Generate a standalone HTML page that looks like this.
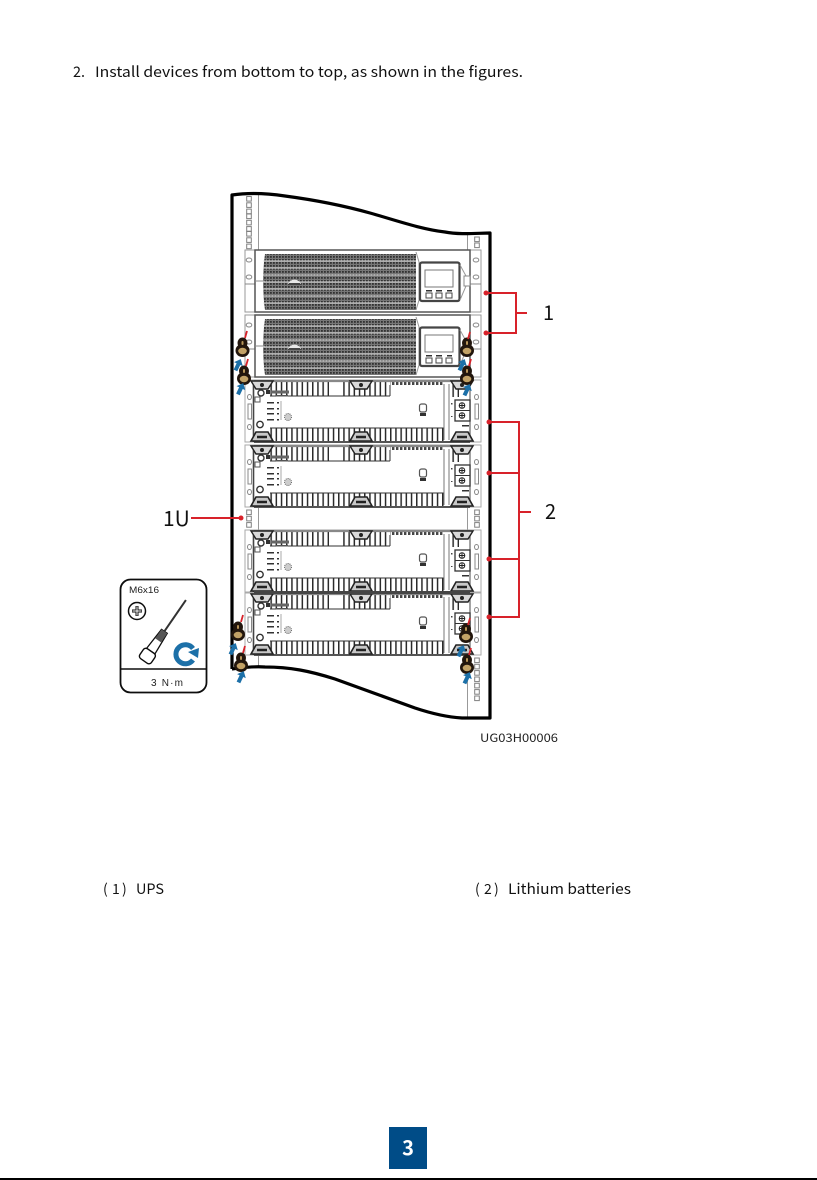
<!DOCTYPE html>
<html><head><meta charset="utf-8"><style>
html,body{margin:0;padding:0;background:#fff;width:817px;height:1180px;overflow:hidden}
svg{display:block}
text{font-family:"Noto Sans CJK SC","Liberation Sans",sans-serif}
</style></head><body>
<svg width="817" height="1180" viewBox="0 0 817 1180" xmlns="http://www.w3.org/2000/svg">
<defs>
<filter id="soft" filterUnits="userSpaceOnUse" x="0" y="0" width="817" height="1180"><feGaussianBlur stdDeviation="0.35"/></filter>
<pattern id="gr" width="3" height="3" patternUnits="userSpaceOnUse"><rect width="3" height="3" fill="#777"/><rect width="1.8" height="1.8" fill="#333"/></pattern>
<pattern id="fin" width="5.2" height="10" patternUnits="userSpaceOnUse"><rect width="5.2" height="10" fill="#fff"/><rect width="1.5" height="10" fill="#2a2a2a"/></pattern>
<pattern id="tick" width="4" height="4" patternUnits="userSpaceOnUse"><rect width="4" height="4" fill="#fff"/><rect width="2.4" height="4" fill="#444"/></pattern>

<rect id="s" width="4.6" height="4.6" fill="#fff" stroke="#808080" stroke-width="1"/>
<g id="s3"><use href="#s" y="0"/><use href="#s" y="6.3"/><use href="#s" y="12.600"/></g>

<g id="ups">
<rect x="245" y="0" width="10" height="62" fill="#fff" stroke="#999" stroke-width="1"/>
<rect x="470" y="0" width="11" height="62" fill="#fff" stroke="#999" stroke-width="1"/>
<line x1="245" y1="34" x2="255" y2="34" stroke="#888"/><line x1="470" y1="34" x2="481" y2="34" stroke="#888"/>
<ellipse cx="249" cy="10" rx="2.800" ry="2" fill="#fff" stroke="#888"/>
<ellipse cx="249" cy="27" rx="2.800" ry="2" fill="#fff" stroke="#888"/>
<ellipse cx="476" cy="10" rx="2.800" ry="2" fill="#fff" stroke="#888"/>
<ellipse cx="476" cy="27" rx="2.800" ry="2" fill="#fff" stroke="#888"/>
<rect x="255" y="0" width="215" height="62" fill="#fff" stroke="#555" stroke-width="1.500"/>
<path d="M265 4H416V60H265Q261 32 265 4Z" fill="url(#gr)"/>
<g stroke="#e4e4e4" stroke-width=".9"><line x1="263" y1="11" x2="416" y2="11"/><line x1="263" y1="18" x2="416" y2="18"/><line x1="263" y1="25" x2="416" y2="25"/><line x1="263" y1="32" x2="416" y2="32"/><line x1="263" y1="39" x2="416" y2="39"/><line x1="263" y1="46" x2="416" y2="46"/><line x1="263" y1="53" x2="416" y2="53"/></g>
<path d="M288 34A7 7 0 0 1 301 34Z" fill="#e8e8e8"/>
<path d="M289 34H300" stroke="#444" stroke-width="2"/>
<line x1="255" y1="31" x2="265" y2="31" stroke="#888"/>
<path d="M416 2 L419 12 V50 L416 60" fill="none" stroke="#999"/>
<rect x="420" y="12.500" width="39.500" height="38.500" rx="2" fill="#fff" stroke="#444" stroke-width="2.200"/>
<rect x="425" y="20" width="28" height="17" fill="#fff" stroke="#777"/>
<g fill="#fff" stroke="#444"><rect x="426" y="43" width="6" height="5"/><rect x="436" y="43" width="6" height="5"/><rect x="446" y="43" width="6" height="5"/></g>
<g fill="#333"><rect x="426" y="40" width="6" height="1.500"/><rect x="436" y="40" width="6" height="1.500"/><rect x="447" y="40" width="5" height="1.500"/></g>
<path d="M460 15 L466 26 V36 L460 50" fill="none" stroke="#999"/>
<rect x="464" y="26" width="6" height="10" fill="#fff" stroke="#888"/>
</g>

<g id="top"><path d="M-11 0H11L6 8H-6Z" fill="#d8d8d8" stroke="#222" stroke-width="1.400"/><circle cy="4" r="2" fill="#222"/></g>
<g id="bot"><path d="M-11 10L-6 1H6L11 10Z" fill="#c8c8c8" stroke="#222" stroke-width="1.600"/><path d="M-5 6H5" stroke="#222" stroke-width="2.500"/></g>

<g id="bat">
<rect x="245" y="0" width="236" height="62" fill="#fff" stroke="#aaa" stroke-width="1"/>
<rect x="254" y="1" width="216" height="61" fill="#fff"/>
<rect x="270" y="2" width="59" height="14" fill="url(#fin)"/>
<rect x="340" y="2" width="50" height="14" fill="url(#fin)"/>
<rect x="390" y="2" width="54" height="3" fill="url(#tick)"/>
<rect x="270" y="48" width="174" height="14" fill="url(#fin)"/>
<rect x="450" y="2" width="9" height="15" fill="url(#fin)"/>
<line x1="270" y1="48" x2="444" y2="48" stroke="#333"/>
<line x1="270" y1="16" x2="390" y2="16" stroke="#333"/>
<line x1="390" y1="5" x2="390" y2="16" stroke="#333"/>
<line x1="253.500" y1="1" x2="253.500" y2="62" stroke="#444" stroke-width="1.600"/>
<line x1="470" y1="1" x2="470" y2="62" stroke="#666" stroke-width="1.200"/>
<line x1="254" y1="62" x2="470" y2="62" stroke="#555" stroke-width="2"/>
<line x1="254" y1="1" x2="470" y2="1" stroke="#888" stroke-width="2.200"/>
<line x1="444" y1="4" x2="444" y2="60" stroke="#777"/>
<line x1="449" y1="4" x2="449" y2="60" stroke="#777"/>
<use href="#top" x="262" y="1"/><use href="#top" x="361" y="1"/><use href="#top" x="462" y="1"/>
<use href="#bot" x="262" y="51"/><use href="#bot" x="361" y="51"/><use href="#bot" x="462" y="51"/>
<circle cx="261" cy="13" r="3" fill="#fff" stroke="#333" stroke-width="1.400"/>
<circle cx="260" cy="44.500" r="3.200" fill="#fff" stroke="#333" stroke-width="1.400"/>
<rect x="266" y="10" width="4" height="4" fill="#333"/><rect x="271" y="10.500" width="18" height="3" fill="#666"/>
<rect x="276" y="15" width="12" height="1.500" fill="#555"/>
<rect x="255" y="17" width="5" height="5" fill="#fff" stroke="#555"/>
<g fill="#333"><rect x="267" y="22" width="7" height="1.500"/><rect x="267" y="28" width="7" height="1.500"/><rect x="267" y="33" width="7" height="1.500"/><rect x="267" y="39" width="7" height="1.500"/><rect x="277" y="22" width="2" height="1.500"/><rect x="277" y="28" width="2" height="1.500"/><rect x="277" y="33" width="2" height="1.500"/><rect x="277" y="39" width="2" height="1.500"/></g>
<line x1="281" y1="21" x2="281" y2="40" stroke="#aaa"/>
<circle cx="288" cy="37" r="3.500" fill="#ccc" stroke="#666" stroke-dasharray="1 1"/>
<rect x="419.500" y="24" width="7" height="8" rx="2" fill="#fff" stroke="#555" stroke-width="1.200"/>
<rect x="420" y="33" width="6" height="3" fill="#333"/>
<rect x="455" y="20" width="15" height="21" fill="#fff" stroke="#333" stroke-width="1.300"/>
<line x1="455" y1="30.500" x2="470" y2="30.500" stroke="#333"/>
<g stroke="#222" fill="none"><circle cx="462" cy="25.500" r="2.800"/><circle cx="462" cy="35.500" r="2.800"/><path d="M459 25.500h6M462 22.500v6M459 35.500h6M462 32.500v6"/></g>
<rect x="451" y="23" width="1.500" height="1.500" fill="#444"/><rect x="451" y="36" width="1.500" height="1" fill="#444"/>
<rect x="462" y="45" width="7" height="1.500" fill="#333"/>
<rect x="248" y="24" width="3.500" height="15" fill="#fff" stroke="#888"/>
<ellipse cx="249.500" cy="17" rx="2" ry="2.500" fill="#fff" stroke="#888"/>
<ellipse cx="249.500" cy="47" rx="2" ry="2.500" fill="#fff" stroke="#888"/>
<rect x="475" y="24" width="3.500" height="15" fill="#fff" stroke="#888"/>
<ellipse cx="476.500" cy="17" rx="2" ry="2.500" fill="#fff" stroke="#888"/>
<ellipse cx="476.500" cy="47" rx="2" ry="2.500" fill="#fff" stroke="#888"/>
</g>

<g id="screw">
<ellipse cx="0" cy="-5" rx="5" ry="5.500" fill="#22150a"/>
<ellipse cx="0" cy="2.500" rx="7" ry="6.500" fill="#22150a"/>
<ellipse cx="0" cy="3" rx="4.300" ry="3.200" fill="#c2a266"/>
<rect x="-1" y="-7" width="2" height="4" rx="1" fill="#b8965a"/>
</g>
<path id="ar" d="M0 -6.500L4.800 -1L2 -1L2 6L-2 6L-2 -1L-4.800 -1Z" fill="#1f6fa8"/>
</defs>

<rect width="817" height="1180" fill="#fff"/>
<text x="73" y="77" font-size="14.500" fill="#111" textLength="12" lengthAdjust="spacingAndGlyphs">2.</text>
<text x="95" y="77" font-size="14.500" fill="#111" textLength="428" lengthAdjust="spacingAndGlyphs">Install devices from bottom to top, as shown in the figures.</text>

<g filter="url(#soft)">
<!-- rails -->
<g transform="translate(246.700,196.500)"><use href="#s3" y="0"/><use href="#s3" y="17.500"/><use href="#s3" y="35"/></g>
<g transform="translate(474.700,237)"><use href="#s"/><use href="#s" y="6"/></g>
<line x1="258.500" y1="195" x2="258.500" y2="250" stroke="#999"/>
<line x1="467.500" y1="234" x2="467.500" y2="250" stroke="#999"/>
<line x1="258.500" y1="505" x2="258.500" y2="532" stroke="#999"/>
<line x1="467.500" y1="505" x2="467.500" y2="532" stroke="#999"/>
<line x1="258.500" y1="653" x2="258.500" y2="667" stroke="#999"/>
<line x1="467.500" y1="653" x2="467.500" y2="717" stroke="#999"/>
<g transform="translate(474.700,658)"><use href="#s3" y="0"/><use href="#s3" y="19"/><use href="#s" y="38"/></g>
<use href="#s3" x="246.700" y="510"/>
<use href="#s3" x="474.700" y="510"/>

<!-- equipment -->
<use href="#ups" x="0" y="250"/>
<use href="#ups" x="0" y="315"/>
<use href="#bat" x="0" y="380"/>
<use href="#bat" x="0" y="445"/>
<use href="#bat" x="0" y="530"/>
<use href="#bat" x="0" y="593"/>
<line x1="254" y1="592.500" x2="470" y2="592.500" stroke="#444" stroke-width="3"/>

<!-- cabinet outline -->
<path d="M232 669V195C246 193 265 193 285 196C315 200 345 206 370 213C395 220 420 229 445 232C460 235 478 233 490 233V718H462C445 717 430 713 415 708C390 699 360 688 335 679C310 671 290 667 265 667C252 666 240 668 232 669" fill="none" stroke="#000" stroke-width="3.200" stroke-linejoin="round"/>

<!-- screws -->
<use href="#screw" x="242.500" y="348"/><use href="#screw" x="244" y="376"/>
<use href="#screw" x="467" y="348"/><use href="#screw" x="467" y="376"/>
<use href="#screw" x="238" y="632"/><use href="#screw" x="241" y="663"/>
<use href="#screw" x="466" y="634"/><use href="#screw" x="467" y="665"/>
<g stroke="#d8232a" stroke-width="1.800">
<line x1="247" y1="331" x2="245" y2="338"/><line x1="248" y1="359" x2="246" y2="366"/>
<line x1="470" y1="332" x2="468" y2="339"/><line x1="471" y1="359" x2="469" y2="366"/>
<line x1="243" y1="615" x2="241" y2="622"/><line x1="245" y1="646" x2="243" y2="653"/>
<line x1="470" y1="618" x2="468" y2="625"/><line x1="471" y1="648" x2="469" y2="655"/>
</g>
<use href="#ar" transform="translate(238,365) rotate(25)"/>
<use href="#ar" transform="translate(240.500,389) rotate(25)"/>
<use href="#ar" transform="translate(462,365) rotate(25)"/>
<use href="#ar" transform="translate(467,390) rotate(25)"/>
<use href="#ar" transform="translate(233,649) rotate(25)"/>
<use href="#ar" transform="translate(241,677) rotate(25)"/>
<use href="#ar" transform="translate(461,651) rotate(25)"/>
<use href="#ar" transform="translate(467,678) rotate(25)"/>

<!-- callouts -->
<g fill="none" stroke="#d8232a" stroke-width="2">
<path d="M486 293H516V333H486"/><path d="M516 313H527"/>
<path d="M489 422H519V617H489"/><path d="M489 473H519M489 559H519"/><path d="M519 512H531"/>
<path d="M191 518H241"/>
</g>
<g fill="#d8232a">
<circle cx="486" cy="293" r="2.500"/><circle cx="486" cy="333" r="2.500"/>
<circle cx="489" cy="422" r="2.500"/><circle cx="489" cy="473" r="2.500"/><circle cx="489" cy="559" r="2.500"/><circle cx="489" cy="617" r="2.500"/>
<circle cx="241" cy="518" r="2.500"/>
</g>

<!-- tool box graphics -->
<rect x="120.500" y="579.500" width="86" height="113" rx="10" fill="#fff" stroke="#111" stroke-width="1.800"/>
<line x1="120" y1="669" x2="207" y2="669" stroke="#111" stroke-width="1.500"/>
<circle cx="137" cy="611" r="8.500" fill="#fff" stroke="#111" stroke-width="1.500"/>
<path d="M132 611h10M137 606v10" stroke="#111" stroke-width="3"/>
<path d="M132.500 611h9M137 606.500v9" stroke="#fff" stroke-width="1"/>
<g transform="translate(144,661) rotate(34.500)">
<path d="M-5 -12L-3.500 -36H3.500L5 -12Z" fill="#fff" stroke="#111" stroke-width="1.300"/>
<rect x="-7" y="-12" width="14" height="12" rx="3" fill="#fff" stroke="#111" stroke-width="1.400"/>
<path d="M-3.500 -36H3.500V-25H-3.500Z" fill="#555"/>
<path d="M0 -36V-74" stroke="#333" stroke-width="2"/>
</g>
<path d="M193 648.500A9.500 9.500 0 1 0 193 660" fill="none" stroke="#1f6fa8" stroke-width="5"/>
<path d="M188 652L199 648L198 658Z" fill="#1f6fa8"/>
</g>

<text x="543" y="320" font-size="20" fill="#111">1</text>
<text x="545" y="519" font-size="20" fill="#111">2</text>
<text x="163" y="526" font-size="21" fill="#111">1U</text>
<text x="129" y="593" font-size="9" fill="#222" textLength="30" lengthAdjust="spacingAndGlyphs" style="font-family:'Liberation Sans',sans-serif">M6x16</text>
<text x="151" y="686" font-size="10" fill="#222" textLength="32" lengthAdjust="spacing" style="font-family:'Liberation Sans',sans-serif">3 N·m</text>

<text x="480" y="742" font-size="11.500" fill="#222" textLength="78" lengthAdjust="spacingAndGlyphs">UG03H00006</text>

<g font-size="14" fill="#111" style="font-family:'Liberation Sans',sans-serif">
<text x="103" y="894">(</text><text x="112" y="894">1</text><text x="122" y="894">)</text>
<text x="475" y="894">(</text><text x="484" y="894">2</text><text x="494" y="894">)</text>
</g>
<text x="136" y="894" font-size="14.500" fill="#111" textLength="28" lengthAdjust="spacingAndGlyphs">UPS</text>
<text x="508" y="894" font-size="14.500" fill="#111" textLength="123" lengthAdjust="spacingAndGlyphs">Lithium batteries</text>

<rect x="389" y="1127" width="38" height="42" fill="#004c87"/>
<text x="408" y="1155" font-size="20" font-weight="700" fill="#fff" text-anchor="middle">3</text>
<rect x="0" y="1178" width="817" height="2" fill="#000"/>
</svg>
</body></html>
